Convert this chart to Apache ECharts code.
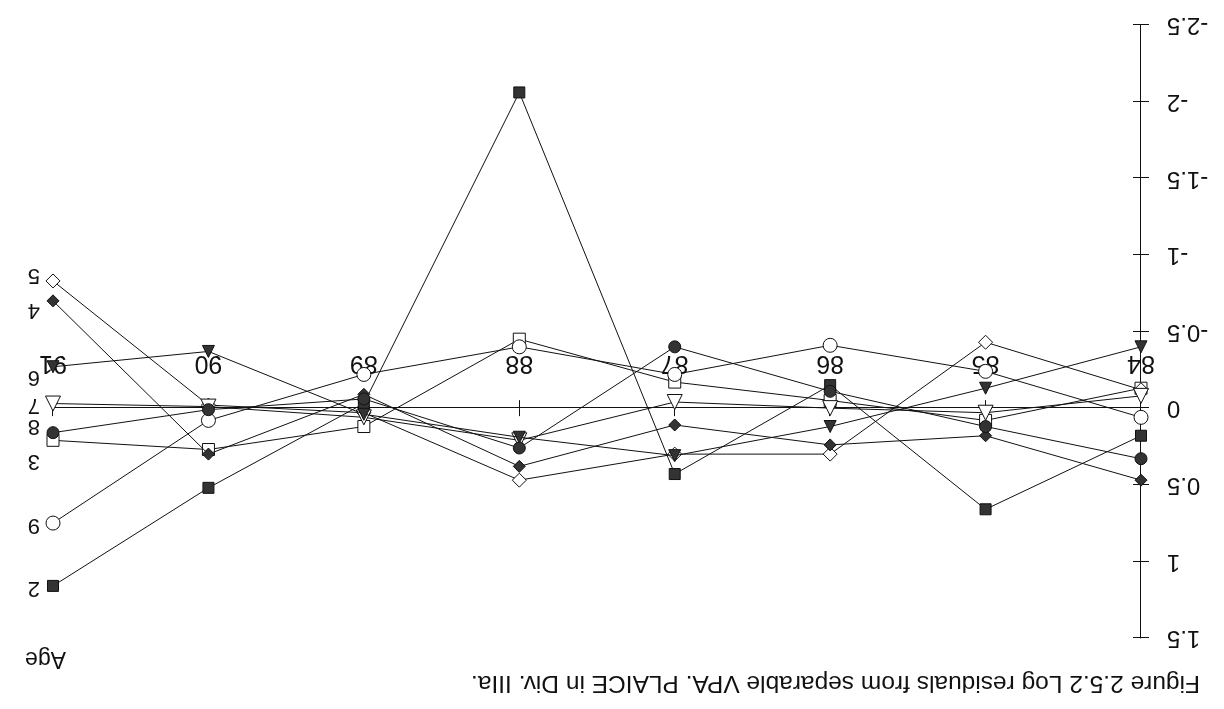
<!DOCTYPE html>
<html>
<head>
<meta charset="utf-8">
<script src="https://cdn.jsdelivr.net/npm/echarts@6/dist/echarts.min.js"></script>
<style>
  html, body { margin: 0; padding: 0; background: #fff; }
  /* The printed page is turned upside down */
  #chart { width: 1224px; height: 709px; transform: rotate(180deg); transform-origin: 50% 50%; }
</style>
</head>
<body>
<div id="chart"></div>
<script>
// Years of the separable VPA
const years = ['84', '85', '86', '87', '88', '89', '90', '91'];
const yTicks = [-2.5, -2, -1.5, -1, -0.5, 0, 0.5, 1, 1.5];

// Log residuals by age group
const age2 = [0.18, 0.66, -0.15, 0.43, -2.06, -0.03, 0.52, 1.16];
const age3 = [-0.13, 0.08, -0.05, -0.17, -0.45, 0.12, 0.27, 0.21];
const age4 = [0.47, 0.18, 0.24, 0.11, 0.38, -0.09, 0.30, -0.70];
const age5 = [-0.12, -0.43, 0.30, 0.30, 0.47, 0.03, -0.02, -0.83];
const age6 = [-0.40, -0.13, 0.12, 0.31, 0.19, 0.04, -0.37, -0.27];
const age7 = [-0.08, 0.03, 0.00, -0.04, 0.21, 0.06, -0.01, -0.03];
const age8 = [0.33, 0.12, -0.11, -0.40, 0.26, -0.06, 0.01, 0.16];
const age9 = [0.06, -0.24, -0.41, -0.22, -0.40, -0.22, 0.08, 0.75];

const FONT = "'Liberation Sans', Arial, Helvetica, sans-serif";
const INK = '#111';
const DARK = '#333';

// Plot area and value range
const GRID = { left: 83, right: 53, top: 71, bottom: 25 };
const Y_MIN = -2.5, Y_MAX = 1.5;
const PLOT_H = 709 - GRID.top - GRID.bottom;
// Lift the year axis from the bottom edge up to the zero line
const ZERO_OFFSET = -PLOT_H * (0 - Y_MIN) / (Y_MAX - Y_MIN);

function ageSeries(name, data, symbol, filled, size, labelDy) {
  return {
    name: name,
    type: 'line',
    data: data,
    symbol: symbol,
    symbolSize: size,
    showAllSymbol: true,
    lineStyle: { color: INK, width: 1 },
    itemStyle: { color: filled ? DARK : '#fff', borderColor: INK, borderWidth: 1 },
    emphasis: { disabled: true },
    endLabel: {
      show: true,
      formatter: '{a}',
      distance: 13,
      offset: [0, labelDy],
      fontFamily: FONT,
      fontSize: 22,
      color: INK
    },
    z: filled ? 3 : 2
  };
}

const chart = echarts.init(document.getElementById('chart'), null, { renderer: 'canvas' });

const yBase = {
  type: 'value',
  min: Y_MIN,
  max: Y_MAX,
  interval: 0.5,
  splitLine: { show: false }
};

chart.setOption({
  animation: false,
  backgroundColor: '#fff',
  textStyle: { fontFamily: FONT },
  title: [
    {
      text: 'Figure 2.5.2 Log residuals from separable VPA. PLAICE in Div. IIIa.',
      left: 24,
      top: 14,
      padding: 0,
      textStyle: { fontFamily: FONT, fontSize: 24.5, fontWeight: 'normal', color: INK }
    },
    {
      text: 'Age',
      left: 1153,
      top: 34,
      textStyle: { fontFamily: FONT, fontSize: 23, fontWeight: 'normal', color: INK }
    }
  ],
  grid: Object.assign({ containLabel: false, outerBoundsMode: 'none' }, GRID),
  xAxis: [
    {
      type: 'category',
      data: years,
      position: 'bottom',
      offset: ZERO_OFFSET,
      boundaryGap: false,
      axisLine: { onZero: false, lineStyle: { color: INK, width: 1 } },
      axisTick: { show: true, inside: false, length: 8, lineStyle: { color: INK } },
      axisLabel: { margin: 33, fontFamily: FONT, fontSize: 25, color: INK },
      splitLine: { show: false }
    },
    {
      type: 'category',
      data: years,
      position: 'bottom',
      offset: ZERO_OFFSET,
      boundaryGap: false,
      axisLine: { show: false, onZero: false },
      axisTick: { show: true, inside: true, length: 8, lineStyle: { color: INK } },
      axisLabel: { show: false },
      splitLine: { show: false }
    }
  ],
  yAxis: [
    Object.assign({}, yBase, {
      position: 'left',
      axisLine: { show: true, onZero: false, lineStyle: { color: INK, width: 1 } },
      axisTick: { show: true, inside: false, length: 8, lineStyle: { color: INK } },
      axisLabel: {
        margin: 26,
        fontFamily: FONT,
        fontSize: 24,
        color: INK,
        formatter: function (v) { return yTicks.indexOf(v) >= 0 ? String(v) : ''; }
      }
    }),
    Object.assign({}, yBase, {
      position: 'left',
      axisLine: { show: false, onZero: false },
      axisTick: { show: true, inside: true, length: 8, lineStyle: { color: INK } },
      axisLabel: { show: false }
    })
  ],
  series: [
    ageSeries('2', age2, 'rect', true, 11, -2),
    ageSeries('3', age3, 'rect', false, 12, -21),
    ageSeries('4', age4, 'diamond', true, 12, -9),
    ageSeries('5', age5, 'diamond', false, 14, 6),
    ageSeries('6', age6, 'triangle', true, 12, -10),
    ageSeries('7', age7, 'triangle', false, 15, -2),
    ageSeries('8', age8, 'circle', true, 12, 7),
    ageSeries('9', age9, 'circle', false, 14, -2)
  ]
});
</script>
</body>
</html>
